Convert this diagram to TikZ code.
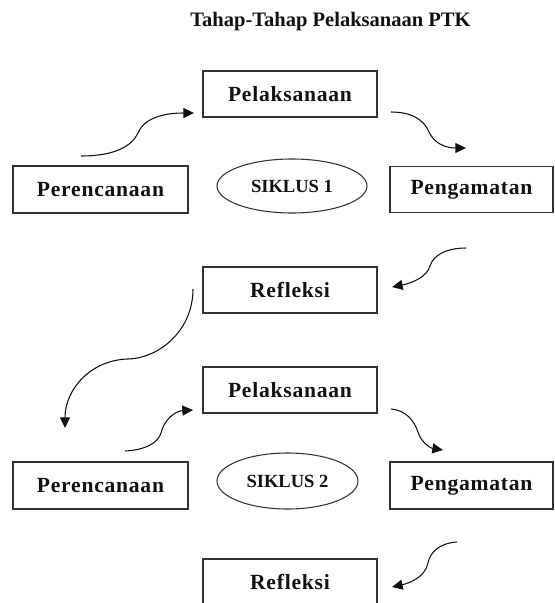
\documentclass[tikz,border=0pt]{standalone}
\usepackage{fontspec}
\setmainfont{Liberation Serif}
\newfontfamily\boxfont[LetterSpace=3.5]{Liberation Serif}
\usetikzlibrary{shapes.geometric,arrows.meta}
\definecolor{edge}{HTML}{333333}
\definecolor{ink}{HTML}{111111}
\tikzset{
  stagebox/.style={draw=edge, line width=1pt, inner sep=0pt,
    minimum height=46*0.75pt, font=\boxfont\bfseries\fontsize{16.2}{19}\selectfont, text=ink},
  cyclebox/.style={ellipse, draw=edge, line width=0.8pt, inner sep=0pt,
    font=\bfseries\fontsize{13.9}{16}\selectfont, text=ink},
  flow/.style={draw=ink, line width=0.8pt, -{Triangle[length=8pt,width=7.5pt]}},
  titletext/.style={font=\bfseries\fontsize{15.4}{18}\selectfont, text=ink, inner sep=0pt}
}
\begin{document}
\begin{tikzpicture}[x=0.75pt,y=-0.75pt]
\useasboundingbox (0,0) rectangle (555,603);
\node[titletext] (title) at (330.5,22) {Tahap-Tahap Pelaksanaan PTK};
% Siklus 1
\node[stagebox, minimum width=174*0.75pt] (pel1) at (290,94) {Pelaksanaan};
\node[stagebox, minimum width=175*0.75pt, minimum height=47*0.75pt] (per1) at (100.5,189.5) {Perencanaan};
\node[stagebox, minimum width=163*0.75pt] (pen1) at (471.5,189.5) {Pengamatan};
\node[cyclebox, minimum width=150*0.75pt, minimum height=54*0.75pt] (sik1) at (292,186) {SIKLUS 1};
\node[stagebox, minimum width=174*0.75pt] (ref1) at (290,290) {Refleksi};
% Siklus 2
\node[stagebox, minimum width=174*0.75pt] (pel2) at (290,390) {Pelaksanaan};
\node[stagebox, minimum width=175*0.75pt, minimum height=47*0.75pt] (per2) at (100.5,485.5) {Perencanaan};
\node[stagebox, minimum width=163*0.75pt, minimum height=47*0.75pt] (pen2) at (471.5,485.5) {Pengamatan};
\node[cyclebox, minimum width=141*0.75pt, minimum height=56*0.75pt] (sik2) at (287.5,481) {SIKLUS 2};
\node[stagebox, minimum width=174*0.75pt] (ref2) at (290,582) {Refleksi};
% arrow end points
\coordinate (a1s) at (81,156);   \coordinate (a1e) at (194,113);
\coordinate (a2s) at (391,112);  \coordinate (a2e) at (466,148);
\coordinate (a3s) at (466,248);  \coordinate (a3e) at (392,287);
\coordinate (a4s) at (193,289);  \coordinate (a4e) at (65,428);
\coordinate (a5s) at (125,451);  \coordinate (a5e) at (193,410);
\coordinate (a6s) at (391,409);  \coordinate (a6e) at (443,450);
\coordinate (a7s) at (457,542);  \coordinate (a7e) at (392,587);
% arrows
\draw[flow] (a1s) .. controls (115,156) and (132,146) .. (138,133)
  .. controls (143,120) and (160,113) .. (a1e);
\draw[flow] (a2s) .. controls (412,112) and (424,120) .. (429,132)
  .. controls (434,143) and (445,148) .. (a2e);
\draw[flow] (a3s) .. controls (445,248) and (433,256) .. (430,266)
  .. controls (427,277) and (412,283) .. (a3e);
\draw[flow] (a4s) .. controls (193,330) and (160,358) .. (128,359)
  .. controls (90,360) and (65,390) .. (a4e);
\draw[flow] (a5s) .. controls (145,450) and (158,443) .. (161,433)
  .. controls (164,420) and (175,411) .. (a5e);
\draw[flow] (a6s) .. controls (405,410) and (414,420) .. (418,432)
  .. controls (421,442) and (430,448) .. (a6e);
\draw[flow] (a7s) .. controls (440,543) and (430,552) .. (428,563)
  .. controls (425,577) and (410,583) .. (a7e);
\end{tikzpicture}
\end{document}
